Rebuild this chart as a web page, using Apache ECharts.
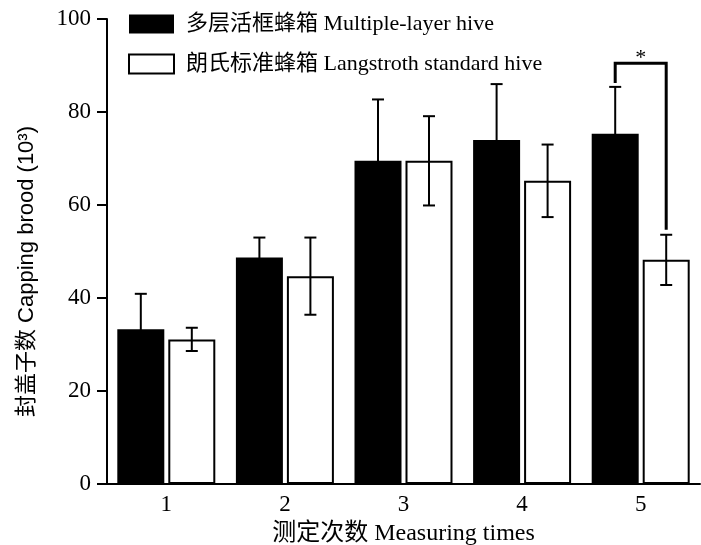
<!DOCTYPE html>
<html style="height: 100%">
<head>
    <meta charset="utf-8" />
    <title>Capping brood</title>
    <script type="text/javascript" src="https://cdn.jsdelivr.net/npm/echarts@6/dist/echarts.min.js"></script>
</head>
<body style="height: 100%; margin: 0; background: #fff">
<div id="main" style="width: 701px; height: 545px"></div>
<script type="text/javascript">
      // data
      var categories = ["1", "2", "3", "4", "5"];
      var multiMean = [33.3, 48.7, 69.5, 74.0, 75.3];
      var multiErr = [7.6, 4.3, 13.2, 12.0, 10.1];
      var langMean = [31.1, 44.7, 69.5, 65.2, 48.2];
      var langErr = [2.5, 8.3, 9.6, 7.8, 5.4];
      var seriesNames = ["多层活框蜂箱 Multiple-layer hive", "朗氏标准蜂箱 Langstroth standard hive"];
      // significance bracket: category index, bracket height, label
      var sigIndex = 4;
      var sigLevel = 90.5;
      var sigLabel = "*";

      var font = "'Liberation Serif', 'Times New Roman', 'Noto Sans CJK SC', serif";
      var barW = 47;
      var barOffset = 25.5; // half of (bar + gap)

      function errData(mean, err) {
        return mean.map(function (m, i) { return [i, m, err[i]]; });
      }

      function errorBars(offset) {
        return function (params, api) {
          var i = api.value(0);
          var m = api.value(1);
          var e = api.value(2);
          var top = api.coord([i, m + e]);
          var bot = api.coord([i, m - e]);
          var x = top[0] + offset;
          var cap = 6;
          var st = { stroke: "#000", lineWidth: 2 };
          return {
            type: "group",
            children: [
              { type: "line", shape: { x1: x, y1: top[1], x2: x, y2: bot[1] }, style: st },
              { type: "line", shape: { x1: x - cap, y1: top[1], x2: x + cap, y2: top[1] }, style: st },
              { type: "line", shape: { x1: x - cap, y1: bot[1], x2: x + cap, y2: bot[1] }, style: st }
            ]
          };
        };
      }

      let myChart = echarts.init(document.getElementById("main"));
      var option = {
        animation: false,
        backgroundColor: "#fff",
        grid: { left: 107, top: 19, width: 593, height: 465, outerBoundsMode: "none", containLabel: false },
        legend: {
          orient: "vertical",
          left: 128,
          top: 13,
          padding: 0,
          icon: "rect",
          itemWidth: 45,
          itemHeight: 19,
          itemGap: 18,
          data: seriesNames,
          textStyle: { fontFamily: font, fontSize: 22, color: "#000", padding: [0, 0, 0, 7] }
        },
        xAxis: {
          type: "category",
          data: categories,
          name: "测定次数 Measuring times",
          nameLocation: "middle",
          nameGap: 38,
          nameTextStyle: { fontFamily: font, fontSize: 24, color: "#000" },
          axisLine: { lineStyle: { color: "#000", width: 2 } },
          axisTick: { show: false },
          axisLabel: { fontFamily: font, fontSize: 23, color: "#000", margin: 9 }
        },
        yAxis: {
          type: "value",
          min: 0,
          max: 100,
          interval: 20,
          name: "封盖子数 Capping brood (10³)",
          nameLocation: "middle",
          nameGap: 69,
          nameTextStyle: {
            fontFamily: "Arial, 'Liberation Sans', 'Noto Sans CJK SC', sans-serif",
            fontSize: 22,
            color: "#000",
            padding: [0, 40, 0, 0]
          },
          splitLine: { show: false },
          axisLine: { show: true, lineStyle: { color: "#000", width: 2 } },
          axisTick: { show: true, length: 10, lineStyle: { color: "#000", width: 2 } },
          axisLabel: { fontFamily: font, fontSize: 23, color: "#000", margin: 16 }
        },
        series: [
          {
            name: seriesNames[0],
            type: "bar",
            data: multiMean,
            barWidth: barW,
            barGap: "8.5%",
            itemStyle: { color: "#000", borderColor: "#000", borderWidth: 0 }
          },
          {
            name: seriesNames[1],
            type: "bar",
            data: langMean,
            barWidth: barW,
            itemStyle: { color: "#fff", borderColor: "#000", borderWidth: 2 }
          },
          {
            type: "custom",
            data: errData(multiMean, multiErr),
            encode: { x: 0, y: 1 },
            renderItem: errorBars(-barOffset),
            z: 5
          },
          {
            type: "custom",
            data: errData(langMean, langErr),
            encode: { x: 0, y: 1 },
            renderItem: errorBars(barOffset),
            z: 5
          },
          {
            type: "custom",
            data: [[sigIndex, sigLevel, multiMean[sigIndex] + multiErr[sigIndex], langMean[sigIndex] + langErr[sigIndex]]],
            encode: { x: 0, y: 1 },
            z: 6,
            renderItem: function (params, api) {
              var i = api.value(0);
              var lv = api.coord([i, api.value(1)]);
              var a = api.coord([i, api.value(2)]);
              var b = api.coord([i, api.value(3)]);
              var xl = lv[0] - barOffset;
              var xr = lv[0] + barOffset;
              var st = { stroke: "#000", lineWidth: 3, fill: null };
              return {
                type: "group",
                children: [
                  { type: "polyline", shape: { points: [[xl, a[1] - 4], [xl, lv[1]], [xr, lv[1]], [xr, b[1] - 5]] }, style: st },
                  { type: "text", style: { text: sigLabel, x: lv[0], y: lv[1] - 5, align: "center", verticalAlign: "middle", font: "22px " + font, fill: "#000" } }
                ]
              };
            }
          }
        ]
      };
      myChart.setOption(option);
      window.addEventListener("resize", function () {
        myChart.resize();
      });
</script>
</body>
</html>
